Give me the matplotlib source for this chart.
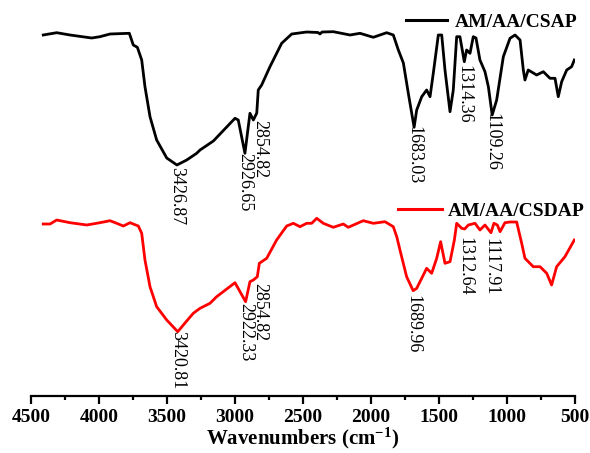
import matplotlib
matplotlib.use("Agg")
import matplotlib.pyplot as plt
from matplotlib.ticker import MultipleLocator
from matplotlib.transforms import offset_copy

# ---------------- data ----------------
wn_csap = [4410, 4311, 4213, 4054, 3993, 3919, 3777, 3748, 3718, 3686, 3662, 3625, 3576, 3502,
           3427, 3355, 3282, 3257, 3159, 3061, 3000, 2976, 2927, 2890, 2865, 2840, 2829, 2804,
           2743, 2657, 2583, 2473, 2390, 2375, 2360, 2277, 2154, 2081, 1983, 1885, 1836, 1799,
           1762, 1726, 1683, 1664, 1627, 1591, 1566, 1542, 1505, 1480, 1456, 1419, 1395, 1370,
           1346, 1314, 1297, 1272, 1248, 1228, 1199, 1162, 1137, 1109, 1076, 1027, 978, 941,
           904, 880, 868, 844, 782, 733, 684, 647, 623, 598, 561, 525, 505]
t_csap = [418, 420.3, 418, 415, 416.3, 419, 419.7, 408, 405.7, 393, 366.3, 336.3, 313, 295,
          288, 293, 299.7, 303, 312, 326, 334.7, 333, 299.7, 339.7, 333, 340, 363, 368,
          386.3, 409.7, 419, 421, 420.5, 419, 421, 421.3, 418, 419.7, 415.7, 420.3, 418, 403,
          390, 360, 325.7, 343, 356.3, 363, 356.3, 379.7, 418, 418, 383, 341.3, 363, 416.3,
          416.3, 391.3, 403, 399.7, 416.3, 415, 393, 381.3, 366.3, 338, 353, 396.3, 414.7, 418,
          413, 383, 373, 383, 378, 381.3, 374.7, 374.7, 356.3, 371.3, 383, 386.3, 393]

wn_csdap = [4410, 4360, 4311, 4213, 4090, 3993, 3919, 3870, 3821, 3772, 3711, 3686, 3662, 3625,
            3576, 3502, 3421, 3380, 3307, 3257, 3184, 3135, 3000, 2922, 2890, 2865, 2836, 2821,
            2767, 2694, 2620, 2571, 2522, 2473, 2436, 2399, 2351, 2277, 2204, 2167, 2057, 1983,
            1897, 1836, 1810, 1787, 1738, 1690, 1664, 1615, 1591, 1554, 1517, 1488, 1456, 1419,
            1387, 1370, 1333, 1312, 1284, 1235, 1199, 1162, 1118, 1096, 1071, 1051, 1015, 978,
            929, 892, 868, 807, 757, 708, 672, 635, 574, 505]
t_csdap = [229, 229, 233, 230.3, 228, 230.3, 232.3, 229.7, 227, 230.3, 227, 219.7, 193, 166.3,
           146.3, 133, 121.3, 128, 139.7, 144.7, 149.7, 156.3, 170.3, 151.3, 171.3, 173, 176.3, 189.7,
           194.7, 213, 227, 229.7, 226.3, 229.7, 229.7, 234.7, 229.7, 225.7, 229, 225.7, 232.3, 229.7,
           231.3, 226.3, 216, 203, 176.3, 162.3, 164.7, 178, 184.7, 179.7, 194.7, 211.3, 189.7, 191.3,
           213, 229.7, 224.7, 224, 228, 229.7, 223, 228, 220.3, 229.7, 228, 221.3, 230.3, 231,
           231, 209.7, 194.7, 186.3, 186.3, 179.7, 168, 186.3, 196.3, 213]

series_names = ["AM/AA/CSAP", "AM/AA/CSDAP"]
series_colors = ["black", "#ff0000"]

peaks_csap = ["3426.87", "2926.65", "2854.82", "1683.03", "1314.36", "1109.26"]
peaks_csap_y = [286, 299.7, 333, 327, 388, 339.7]
peaks_csdap = ["3420.81", "2922.33", "2854.82", "1689.96", "1312.64", "1117.91"]
peaks_csdap_y = [122, 149.7, 169.7, 158, 216.3, 214.7]
label_dx = {"2854.82": 5}

xticks = [4500, 4000, 3500, 3000, 2500, 2000, 1500, 1000, 500]

# ---------------- plot ----------------
serif = ["Liberation Serif", "DejaVu Serif"]
plt.rcParams["mathtext.fontset"] = "custom"
plt.rcParams["mathtext.rm"] = "Liberation Serif:bold"
plt.rcParams["mathtext.it"] = "Liberation Serif:bold"
plt.rcParams["mathtext.bf"] = "Liberation Serif:bold"
plt.rcParams["mathtext.default"] = "rm"

fig = plt.figure(figsize=(5.9, 4.53), dpi=100)
ax = fig.add_axes([31 / 590, 57 / 453, 544 / 590, 396 / 453])

l1, = ax.plot(wn_csap, t_csap, color=series_colors[0], lw=2)
l2, = ax.plot(wn_csdap, t_csdap, color=series_colors[1], lw=2)

for labels, ys in ((peaks_csap, peaks_csap_y), (peaks_csdap, peaks_csdap_y)):
    for lab, y in zip(labels, ys):
        dx = label_dx.get(lab, 0)
        tr = offset_copy(ax.transData, fig=fig, x=dx * 72 / 100, y=0, units="points")
        ax.text(float(lab), y, lab, rotation=-90, ha="center", va="top",
                family=serif, fontsize=13, transform=tr)

ax.set_xlim(4500, 500)
ax.set_ylim(57, 453)
ax.set_xticks(xticks)
ax.set_xticklabels([str(t) for t in xticks])
ax.xaxis.set_minor_locator(MultipleLocator(250))
ax.set_yticks([])
for s in ("top", "left", "right"):
    ax.spines[s].set_visible(False)
ax.spines["bottom"].set_linewidth(1.6)
ax.tick_params(axis="x", which="major", direction="out", length=6, width=1.6, pad=3)
ax.tick_params(axis="x", which="minor", direction="out", length=3, width=1.6)
for lbl in ax.get_xticklabels():
    lbl.set_family(serif)
    lbl.set_fontweight("bold")
    lbl.set_fontsize(14)
ax.set_xlabel("Wavenumbers (cm$^{-1}$)", family=serif, fontweight="bold", fontsize=15, labelpad=0)
ax.patch.set_visible(False)

leg1 = ax.legend([l1], [series_names[0]], loc="center right",
                 bbox_to_anchor=(577 / 590, 1 - 22 / 453), bbox_transform=fig.transFigure,
                 frameon=False, borderpad=0, borderaxespad=0, handlelength=2.1,
                 handletextpad=0.4, prop={"family": serif, "weight": "bold", "size": 14})
for h in leg1.legend_handles:
    h.set_linewidth(2.2)
ax.add_artist(leg1)
leg2 = ax.legend([l2], [series_names[1]], loc="center right",
                 bbox_to_anchor=(585 / 590, 1 - 211 / 453), bbox_transform=fig.transFigure,
                 frameon=False, borderpad=0, borderaxespad=0, handlelength=2.3,
                 handletextpad=0.3, prop={"family": serif, "weight": "bold", "size": 14})
for h in leg2.legend_handles:
    h.set_linewidth(2.2)

fig.savefig("out.png", dpi=100)
